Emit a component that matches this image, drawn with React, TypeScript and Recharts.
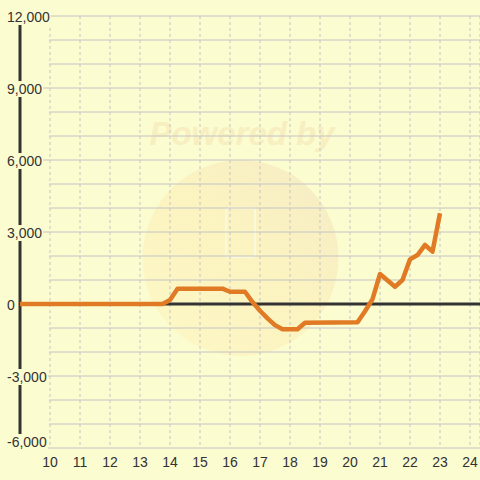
import React from "react";
import {
  CartesianGrid,
  Line,
  LineChart,
  ReferenceLine,
  XAxis,
  YAxis,
} from "recharts";

// hourly profit curve
const hours = [
  9, 13.75, 14, 14.25, 15.75, 16, 16.5, 16.75, 17, 17.25, 17.5, 17.75, 18.25,
  18.5, 20.25, 20.5, 20.75, 21, 21.5, 21.75, 22, 22.25, 22.5, 22.75, 23,
];
const values = [
  0, 0, 170, 640, 640, 510, 510, 80, -280, -600, -880, -1050, -1050, -780,
  -760, -300, 200, 1250, 720, 1000, 1860, 2040, 2460, 2180, 3780,
];

const xTicks = [10, 11, 12, 13, 14, 15, 16, 17, 18, 19, 20, 21, 22, 23, 24];
const yLabelTicks = [-6000, -3000, 0, 3000, 6000, 9000, 12000];
const yMinorLines = [
  -5000, -4000, -2000, -1000, 1000, 2000, 4000, 5000, 7000, 8000, 10000, 11000,
];
const yMajorLines = [-6000, -3000, 3000, 6000, 9000, 12000];

const data = hours.map((h, i) => ({ h, v: values[i] }));

const BG = "#fcfcd1";
const INK = "#333333";
const GRID = "#c4c4c4";
const FONT = "'Liberation Sans', Arial, sans-serif";

function textWidth(s: string) {
  let w = 0;
  for (const c of s) w += c === "," ? 3.9 : c === "-" ? 4.7 : 7.8;
  return w;
}

function YTick(props: any) {
  const { y, payload } = props;
  const label = Number(payload.value).toLocaleString("en-US");
  const dy = payload.value === -6000 ? -6 : 1;
  const w = textWidth(label);
  return (
    <g>
      <rect x={6} y={y + dy - 8} width={w + 2} height={16} fill={BG} />
      <text
        x={7}
        y={y + dy}
        dy="0.36em"
        fontSize={14}
        fontFamily={FONT}
        fill={INK}
        textAnchor="start"
      >
        {label}
      </text>
    </g>
  );
}

function XTick(props: any) {
  const { x, payload } = props;
  return (
    <text
      x={x}
      y={467}
      fontSize={14}
      fontFamily={FONT}
      fill={INK}
      textAnchor="middle"
    >
      {payload.value}
    </text>
  );
}

function Watermark() {
  return (
    <svg
      width={480}
      height={480}
      style={{ position: "absolute", left: 0, top: 0 }}
    >
      <defs>
        <linearGradient id="wm" x1="0" y1="1" x2="1" y2="0">
          <stop offset="0%" stopColor="#fdf8c6" />
          <stop offset="55%" stopColor="#fbf3c0" />
          <stop offset="100%" stopColor="#f5edc6" />
        </linearGradient>
      </defs>
      <circle cx={240.5} cy={258} r={98} fill="url(#wm)" />
      <rect
        x={226}
        y={208}
        width={29}
        height={49}
        rx={3}
        fill="none"
        stroke="#fdfbe2"
        strokeWidth={1.5}
      />
      <text
        x={242}
        y={145}
        textAnchor="middle"
        fontSize={33}
        fontWeight="bold"
        fontStyle="italic"
        fontFamily={FONT}
        fill="#f7efc0"
      >
        Powered by
      </text>
    </svg>
  );
}

export default function App() {
  return (
    <div
      style={{
        position: "absolute",
        left: 0,
        top: 0,
        width: 480,
        height: 480,
        background: BG,
        overflow: "hidden",
      }}
    >
      <Watermark />
      <div style={{ position: "absolute", left: 0, top: 0 }}>
        <LineChart
          width={480}
          height={480}
          data={data}
          margin={{ top: 16, right: 0, bottom: 0, left: 0 }}
        >
          <CartesianGrid
            horizontal={false}
            stroke={GRID}
            strokeDasharray="3 3"
          />
          <XAxis
            type="number"
            dataKey="h"
            domain={[9, 24.3333]}
            ticks={xTicks}
            interval={0}
            axisLine={false}
            tickLine={false}
            height={32}
            tick={XTick}
            allowDataOverflow
          />
          {yMinorLines.map((v) => (
            <ReferenceLine
              key={"m" + v}
              segment={[
                { x: 9.98, y: v },
                { x: 24.3333, y: v },
              ]}
              stroke={GRID}
              strokeWidth={1}
            />
          ))}
          {yMajorLines.map((v) => (
            <ReferenceLine
              key={"M" + v}
              segment={[
                { x: 9, y: v },
                { x: 24.3333, y: v },
              ]}
              stroke={GRID}
              strokeWidth={1}
            />
          ))}
          <ReferenceLine y={0} stroke={INK} strokeWidth={3} />
          <ReferenceLine x={9} stroke={INK} strokeWidth={3} />
          <Line
            type="linear"
            dataKey="v"
            stroke="#e07a24"
            strokeWidth={4.5}
            dot={false}
            strokeLinejoin="round"
            isAnimationActive={false}
          />
          <YAxis
            type="number"
            domain={[-6000, 12000]}
            ticks={yLabelTicks}
            interval={0}
            axisLine={false}
            tickLine={false}
            width={20}
            tick={YTick}
            allowDataOverflow
          />
        </LineChart>
      </div>
    </div>
  );
}
